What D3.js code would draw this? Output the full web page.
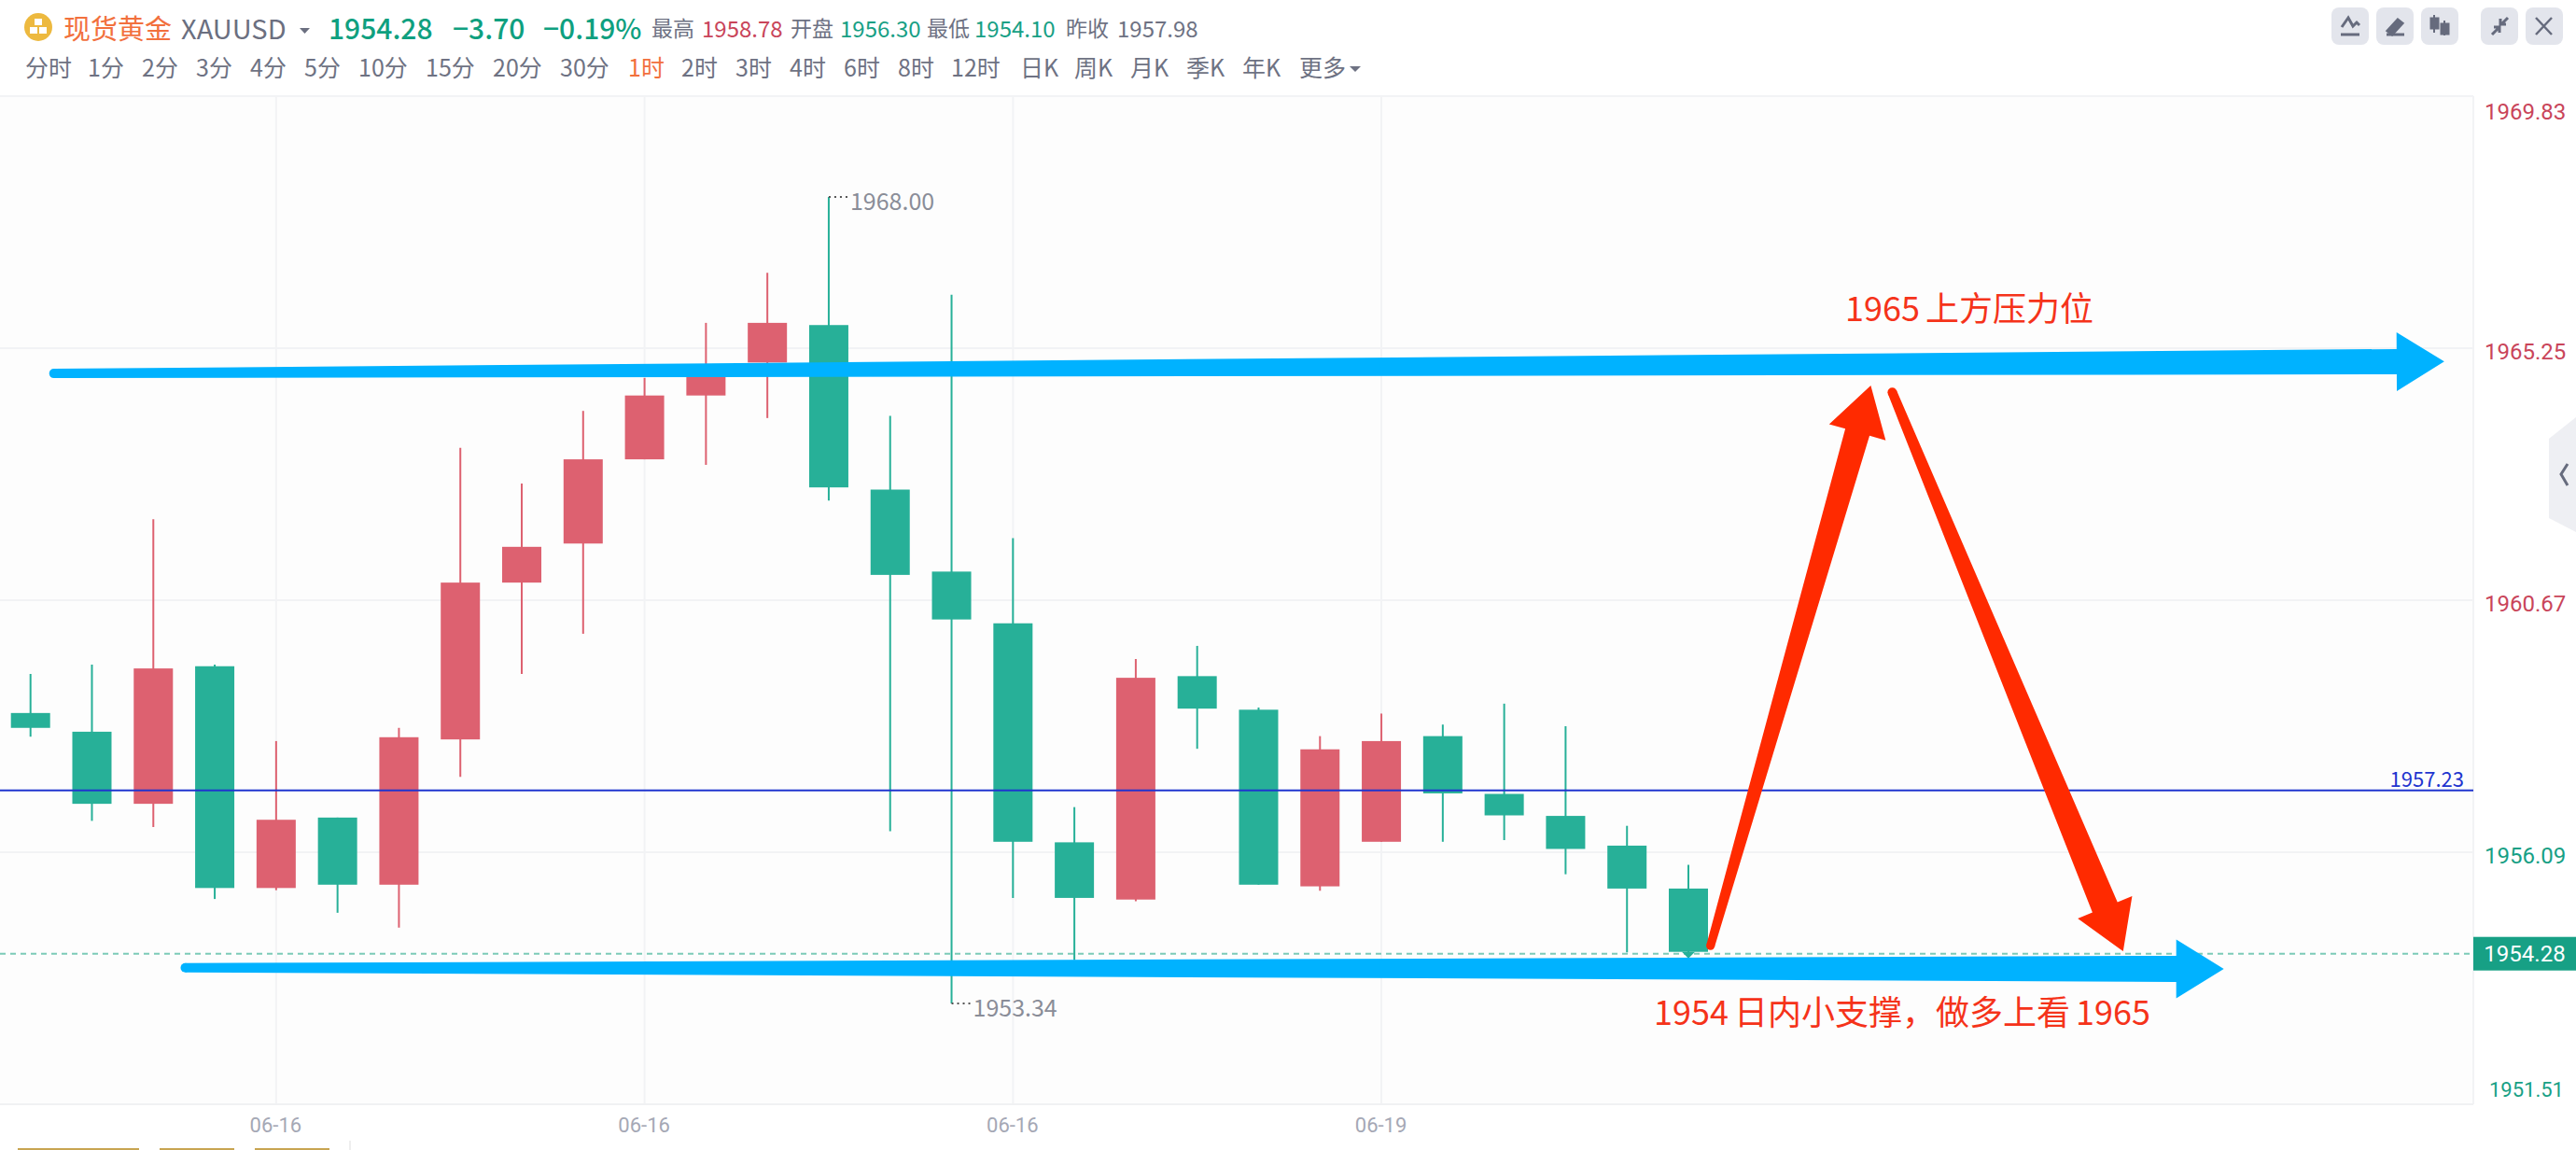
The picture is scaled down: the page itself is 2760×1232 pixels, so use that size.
<!DOCTYPE html>
<html><head><meta charset="utf-8">
<script src="https://cdnjs.cloudflare.com/ajax/libs/d3/7.8.5/d3.min.js"></script>
<style>html,body{margin:0;padding:0;background:#fff;overflow:hidden}svg{display:block}
text{font-family:"Noto Sans CJK SC","Noto Sans",sans-serif}</style></head><body>
<svg id="c" width="2760" height="1232"></svg>
<script>
const opens  =[1958.62,1958.28,1956.97,1959.47,1955.44,1956.72,1955.50,1958.14,1960.99,1961.70,1963.23,1964.39,1964.99,1965.67,1962.68,1961.19,1960.25,1956.27,1955.23,1959.29,1958.68,1955.47,1956.28,1958.20,1957.15,1956.75,1956.21,1955.43];
const closes =[1958.35,1956.97,1959.43,1955.44,1956.68,1955.50,1958.18,1960.99,1961.64,1963.23,1964.39,1964.94,1965.71,1962.72,1961.13,1960.32,1956.28,1955.26,1959.26,1958.70,1955.50,1957.96,1958.11,1957.16,1956.76,1956.15,1955.43,1954.28];
const highs  =[1959.33,1959.50,1962.14,1959.50,1958.11,1956.72,1958.35,1963.44,1962.79,1964.11,1964.71,1965.71,1966.62,1968.00,1964.02,1966.22,1961.80,1956.91,1959.60,1959.84,1958.72,1958.20,1958.61,1958.41,1958.79,1958.38,1956.57,1955.86];
const lows   =[1958.19,1956.66,1956.55,1955.24,1955.40,1954.99,1954.72,1957.46,1959.33,1960.06,1963.23,1963.13,1963.98,1962.48,1956.47,1953.34,1955.26,1954.13,1955.20,1957.97,1955.50,1955.39,1956.28,1956.28,1956.31,1955.69,1954.27,1954.18];
const yTicks=[1969.83,1965.25,1960.67,1956.09,1951.51];
const xTickIndex=[4,10,16,22];
const xTickLabels=["06-16","06-16","06-16","06-19"];
const tabs=["分时","1分","2分","3分","4分","5分","10分","15分","20分","30分","1时","2时","3时","4时","6时","8时","12时","日K","周K","月K","季K","年K","更多"];
const tabX=[27,94,152,210,268,326,384,456,528,600,673,730,788,846,904,962,1019,1093,1151,1211,1271,1331,1392];
const activeTab="1时";
const lastPrice=1954.28, refLine=1957.23, hiMark=1968.00, loMark=1953.34;
// annotation arrows: tail and tip as [bar index, price]
const blueArrows=[
 {tail:[0.38,1964.79],tip:[39.31,1965.01],w0:10,w1:27,head:63,len:51},
 {tail:[2.52,1953.99],tip:[35.72,1953.97],w0:10,w1:28,head:63,len:51}];
const redArrows=[
 {tail:[27.36,1954.39],tip:[29.97,1964.57],w0:9,w1:27,head:63,len:52},
 {tail:[30.32,1964.45],tip:[34.08,1954.29],w0:10,w1:29,head:63,len:51}];

const W=2760,H=1232,plotR=2650,plotT=103,plotB=1183;
const RED="#dd6170",GREEN="#27b098",TXT="#6e7283";
const svg=d3.select("#c");
svg.append("rect").attr("width",W).attr("height",H).attr("fill","#fff");
svg.append("rect").attr("x",0).attr("y",plotT).attr("width",plotR).attr("height",plotB-plotT).attr("fill","#fdfdfd");

const x=d3.scaleLinear().domain([0,27]).range([32.7,1809]);
const y=d3.scaleLinear().domain([1951.51,1969.83]).range([plotB,plotT]);

// grid
const grid=svg.append("g").attr("stroke","#f2f3f5").attr("stroke-width",2);
grid.selectAll(".gy").data(yTicks).join("line").attr("x1",0).attr("x2",plotR).attr("y1",d=>y(d)).attr("y2",d=>y(d));
grid.selectAll(".gx").data(xTickIndex).join("line").attr("x1",d=>x(d)).attr("x2",d=>x(d)).attr("y1",plotT).attr("y2",plotB);
grid.append("line").attr("x1",plotR).attr("x2",plotR).attr("y1",plotT).attr("y2",plotB);

// candles
const bars=d3.range(opens.length).map(i=>({i,o:opens[i],c:closes[i],h:highs[i],l:lows[i],col:closes[i]>opens[i]?RED:GREEN}));
const g=svg.append("g");
g.selectAll(".w").data(bars).join("line").attr("x1",d=>x(d.i)).attr("x2",d=>x(d.i)).attr("y1",d=>y(d.h)).attr("y2",d=>y(d.l)).attr("stroke",d=>d.col).attr("stroke-width",2);
g.selectAll(".b").data(bars).join("rect").attr("x",d=>x(d.i)-21).attr("width",42)
 .attr("y",d=>y(Math.max(d.o,d.c))).attr("height",d=>Math.abs(y(d.o)-y(d.c))).attr("fill",d=>d.col);

// reference lines
svg.append("line").attr("x1",0).attr("x2",plotR).attr("y1",y(lastPrice)+2).attr("y2",y(lastPrice)+2).attr("stroke","#7ccbb8").attr("stroke-width",2).attr("stroke-dasharray","6 5");
const lx=x(27),ly=y(lastPrice);
svg.append("path").attr("d",`M${lx-7},${ly}L${lx+7},${ly}L${lx},${ly+7}Z`).attr("fill",GREEN);
svg.append("line").attr("x1",0).attr("x2",plotR).attr("y1",y(refLine)+1).attr("y2",y(refLine)+1).attr("stroke","#1f35cf").attr("stroke-width",2);
svg.append("text").attr("x",2640).attr("y",y(refLine)-13).attr("text-anchor","end").attr("dominant-baseline","central").attr("font-size",22).attr("fill","#1f35cf").text(refLine.toFixed(2));

// high/low marks
function mark(i,v,dy){
 const px=x(i),py=y(v);
 svg.append("line").attr("x1",px).attr("x2",px+22).attr("y1",py).attr("y2",py).attr("stroke","#555").attr("stroke-width",2).attr("stroke-dasharray","2 4");
 svg.append("text").attr("x",px+23).attr("y",py+dy).attr("dominant-baseline","central").attr("font-size",25).attr("fill","#8a8d98").text(v.toFixed(2));
}
mark(highs.indexOf(hiMark),hiMark,3);
mark(lows.indexOf(loMark),loMark,3);

// y axis
const yAxis=d3.axisRight(y).tickValues(yTicks).tickSize(0).tickFormat(d3.format(".2f"));
const ya=svg.append("g").attr("transform",`translate(${plotR+12},0)`).call(yAxis);
ya.select(".domain").remove();
ya.selectAll("text").attr("x",0).attr("dy",null).attr("dominant-baseline","central")
 .attr("font-size",24).style("font-family","Roboto,'Noto Sans',sans-serif")
 .attr("transform",d=>`translate(0,${d===yTicks[0]?16:d===yTicks[4]?-16:3})`)
 .attr("fill",d=>d>1957.98?"#c9455a":"#17a085");
ya.selectAll("text").filter(d=>d===yTicks[4]).attr("x",5).attr("font-size",22);

// last price tag
svg.append("rect").attr("x",plotR).attr("y",y(lastPrice)-16).attr("width",W-plotR).attr("height",36).attr("fill","#17a085");
svg.append("text").attr("x",(plotR+W)/2).attr("y",y(lastPrice)+2).attr("text-anchor","middle").attr("dominant-baseline","central").attr("font-size",24).attr("fill","#fff").style("font-family","Roboto,sans-serif").text(lastPrice.toFixed(2));

// x axis
const xAxis=d3.axisBottom(x).tickValues(xTickIndex).tickSize(0).tickFormat((d,i)=>xTickLabels[i]);
const xa=svg.append("g").attr("transform",`translate(-1,${plotB})`).call(xAxis);
xa.select(".domain").remove();
xa.selectAll("text").attr("y",22).attr("dy",null).attr("dominant-baseline","central").attr("font-size",22).attr("fill","#a5a8b5").style("font-family","Roboto,sans-serif");
svg.append("line").attr("x1",0).attr("x2",plotR).attr("y1",plotB).attr("y2",plotB).attr("stroke","#f0f1f3").attr("stroke-width",2);

// annotation arrows
function arrow(a,col){
 const p0=[x(a.tail[0]),y(a.tail[1])],p1=[x(a.tip[0]),y(a.tip[1])];
 const dx=p1[0]-p0[0],dy=p1[1]-p0[1],L=Math.hypot(dx,dy),ux=dx/L,uy=dy/L,nx=-uy,ny=ux;
 const b=[p1[0]-ux*a.len,p1[1]-uy*a.len];
 const P=(c,w)=>[c[0]+nx*w/2,c[1]+ny*w/2],M=(c,w)=>[c[0]-nx*w/2,c[1]-ny*w/2];
 const pts=[P(p0,a.w0),P(b,a.w1),P(b,a.head),p1,M(b,a.head),M(b,a.w1),M(p0,a.w0)];
 svg.append("path").attr("d",d3.line()(pts)+"Z").attr("fill",col);
 svg.append("circle").attr("cx",p0[0]).attr("cy",p0[1]).attr("r",a.w0/2).attr("fill",col);
}
blueArrows.forEach(a=>arrow(a,"#00b2ff"));
redArrows.forEach(a=>arrow(a,"#ff2a00"));
function note(px,py,parts){
 const t=svg.append("text").attr("x",px).attr("y",py).attr("dominant-baseline","central").attr("font-size",36).attr("fill","#f5331a");
 parts.forEach((s,i)=>t.append("tspan").attr("dx",i?6:0).text(s));
}
note(1977,328,["1965","上方压力位"]);
note(1772,1082,["1954","日内小支撑，做多上看","1965"]);

// header
svg.append("circle").attr("cx",41).attr("cy",29).attr("r",15).attr("fill","#edb93f");
const gold=svg.append("g").attr("fill","#fff");
[[37,20],[32,29],[42,29]].forEach(p=>gold.append("rect").attr("x",p[0]).attr("y",p[1]).attr("width",8).attr("height",7));
function T(tx,px,size,col,s,wt){const e=svg.append("text").attr("x",px).attr("y",29).attr("dominant-baseline","central").attr("font-size",size).attr("fill",col).text(s);if(wt)e.attr("font-weight",wt);return e;}
T(0,68,29,"#f2703d","现货黄金");
T(0,194,29,"#6b6f80","XAUUSD");
svg.append("path").attr("d","M321,30h11l-5.5,6Z").attr("fill","#6b6f80");
T(0,352,30,"#0fa07f","1954.28",500);
T(0,485,30,"#0fa07f","−3.70",500);
T(0,582,30,"#0fa07f","−0.19%",500);
T(0,698,23,"#6e7283","最高");
T(0,752,24,"#c9455a","1958.78");
T(0,847,23,"#6e7283","开盘");
T(0,900,24,"#17a085","1956.30");
T(0,993,23,"#6e7283","最低");
T(0,1044,24,"#17a085","1954.10");
T(0,1142,23,"#6e7283","昨收");
T(0,1197,24,"#6e7283","1957.98");

// period tabs
svg.selectAll(".tab").data(tabs).join("text").attr("x",(d,i)=>tabX[i]).attr("y",71).attr("dominant-baseline","central").attr("font-size",25)
 .attr("fill",d=>d===activeTab?"#f2703d":TXT).text(d=>d);
svg.append("path").attr("d","M1446,71h12l-6,6Z").attr("fill",TXT);

// toolbar
[2498,2546,2594,2658,2706].forEach(bx=>svg.append("rect").attr("x",bx).attr("y",8).attr("width",40).attr("height",40).attr("rx",8).attr("fill","#e3e5ec"));
const ic=svg.append("g").attr("fill","none").attr("stroke","#666b7d").attr("stroke-width",3);
ic.append("path").attr("d","M2509,29l7,-10l5,9l4,-4l3,3");
ic.append("path").attr("d","M2508,37h20");
ic.append("path").attr("d","M2557,37h19");
ic.append("path").attr("d","M2558,33l11,-12l5,4l-11,12z").attr("fill","#666b7d");
ic.append("path").attr("d","M2608,16v19M2619,22v16").attr("stroke-width",2);
ic.append("rect").attr("x",2605).attr("y",20).attr("width",7).attr("height",10).attr("fill","#666b7d");
ic.append("rect").attr("x",2616).attr("y",26).attr("width",7).attr("height",10).attr("fill","#666b7d");
ic.append("path").attr("d","M2670,37l7,-7M2672,29h6v6M2687,19l-7,7M2679,20v6h6");
ic.append("path").attr("d","M2717,19l17,18M2734,19l-17,18").attr("stroke-width",2.5);

// right side tab
svg.append("path").attr("d","M2760,447L2731,470V555L2760,570Z").attr("fill","#eeeff3");
svg.append("path").attr("d","M2751,497L2744,508L2751,520").attr("fill","none").attr("stroke","#666b7d").attr("stroke-width",3);

// bottom strip
[[19,130],[171,80],[273,80]].forEach(r=>svg.append("rect").attr("x",r[0]).attr("y",1230).attr("width",r[1]).attr("height",4).attr("fill","#c8a552"));
svg.append("line").attr("x1",375).attr("x2",375).attr("y1",1222).attr("y2",1232).attr("stroke","#eee").attr("stroke-width",2);
</script></body></html>
